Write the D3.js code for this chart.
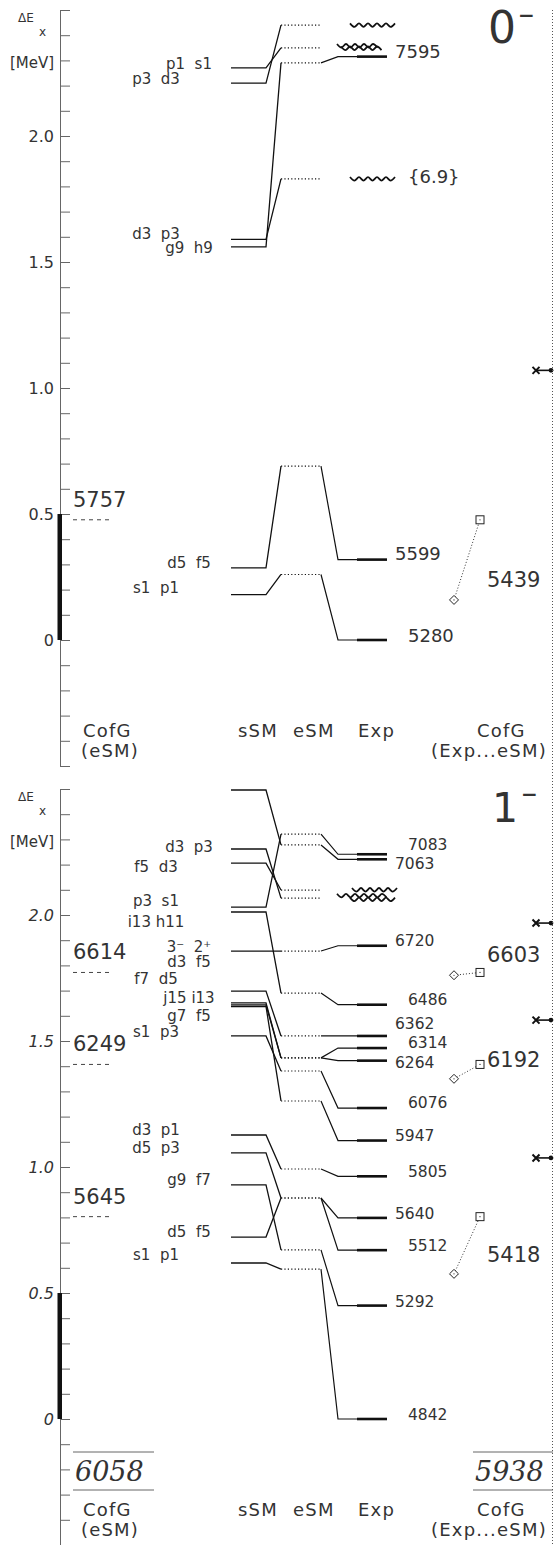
<!DOCTYPE html>
<html>
<head>
<meta charset="utf-8">
<script src="https://cdn.jsdelivr.net/npm/d3@7"></script>
<style>
body { margin: 0; background: #fff; }
svg text { font-family: "DejaVu Sans", sans-serif; fill: #333; }
</style>
</head>
<body>
<svg id="chart" width="554" height="1545"></svg>
<script>
// ---------- 0- panel (excitation energies relative to 5280 keV) ----------
const topZero = 5280;
const topSSM = [2.27, 2.21, 1.59, 1.56, 0.286, 0.18];
const topSSMLabels = ["p1  s1", "p3  d3", "d3  p3", "g9  h9", "d5  f5", "s1  p1"];
const topESM = [2.35, 2.44, 1.83, 2.29, 0.69, 0.26];
const topExp = [null, null, null, 7595, 5599, 5280];
const topWavy = [2.44, 2.358, 2.348, 1.83];
const topWavyLabels = ["", "", "", "{6.9}"];
const topCofGeSM = [5757];
const topCofGExp = [5439];
const topMarks = [1.07];

// ---------- 1- panel (relative to 4842 keV) ----------
const botZero = 4842;
const botSSM = [2.496, 2.262, 2.206, 2.031, 2.012, 1.857, 1.698, 1.651, 1.643, 1.637,
                1.520, 1.127, 1.056, 0.929, 0.722, 0.619];
const botSSMLabels = ["", "d3  p3", "f5  d3", "p3  s1", "i13 h11", "3⁻  2⁺", "d3  f5", "f7  d5",
                      "j15 i13", "g7  f5", "s1  p3", "d3  p1", "d5  p3", "g9  f7", "d5  f5", "s1  p1"];
const botESM = [2.278, 2.067, 2.099, 2.321, 1.690, 1.857, 1.520, 1.433, 1.433, 1.262,
                1.381, 0.992, 0.877, 0.671, 0.877, 0.595];
const botExp = [7063, null, null, 7083, 6486, 6720, 6362, 6314, 6264, 5947,
                6076, 5805, 5640, 5292, 5512, 4842];
const botWavy = [2.10, 2.077, 2.062];
const botWavyLabels = ["", "", ""];
const botCofGeSM = [6614, 6249, 5645];
const botCofGExp = [6603, 6192, 5418];
const botMarks = [1.968, 1.583, 1.036];
const botTotals = [6058, 5938];

const majorTicks = [0, 0.5, 1, 1.5, 2];

// x layout
const col = {
    axis: 60, cofgL: 73, cofgR: 113,
    labA: 156, labB: 189,
    sL: 231, sR: 266, eL: 281, eR: 321, xL: 338, xMid: 357, xR: 387,
    expLabA: 395, expLabB: 408,
    diamond: 454, square: 480, cofgLab: 487, mark: 536, markDot: 551, edge: 552.5
};

// label nudges (column flag, baseline offset)
const topLabelCol = [1, 0, 0, 1, 1, 0];
const topLabelDy = [1, 1, 0, 6, 0, -2];
const botLabelCol = [0, 1, 0, 0, 0, 1, 1, 0, 1, 1, 0, 0, 0, 1, 1, 0];
const botLabelDy = [0, 3, 9, -1, 15, 1, -24, -19, -2, 15, 1, 0, 0, 0, 0, -3];
const expNudge = {7595: [0, 1], 5599: [0, 0], 5280: [1, 2],
    7063: [0, 10], 7083: [1, -4], 6486: [1, 0], 6720: [0, 0], 6362: [0, -7], 6314: [1, 0],
    6264: [0, 7], 5947: [0, 0], 6076: [1, 0], 5805: [1, 1], 5640: [0, 1], 5292: [0, 1],
    5512: [1, 1], 4842: [1, 1]};

const svg = d3.select("#chart");

const panels = [
    {zero: topZero, off: 0, range: [766, 10], italic: false, title: "0",
     sSM: topSSM, sLabels: topSSMLabels, eSM: topESM, exp: topExp,
     wavy: topWavy, wavyLabels: topWavyLabels, wavyX: [[350, 397], [337, 381], [341, 384], [350, 397]],
     cofgESM: topCofGeSM, cofgExp: topCofGExp, cofgLabDy: [67], marks: topMarks,
     labCol: topLabelCol, labDy: topLabelDy, expLabSize: 18},
    {zero: botZero, off: 779, range: [1545, 789], italic: true, title: "1",
     sSM: botSSM, sLabels: botSSMLabels, eSM: botESM, exp: botExp,
     wavy: botWavy, wavyLabels: botWavyLabels, wavyX: [[352, 397], [337, 390], [350, 397]],
     cofgESM: botCofGeSM, cofgExp: botCofGExp, cofgLabDy: [-10, 3, 45], marks: botMarks,
     labCol: botLabelCol, labDy: botLabelDy, expLabSize: 15.5}
];

function wavyPath(x0, x1, yy) {
    const pts = [];
    for (let xx = x0, k = 0; xx <= x1; xx += 4.5, k++) pts.push([xx, yy + (k % 2 ? 1.8 : -1.8)]);
    return d3.line().curve(d3.curveCardinal)(pts);
}

function drawPanel(p) {
    const y = d3.scaleLinear().domain([-0.5, 2.5]).range(p.range);
    const g = svg.append("g");
    const rel = E => (E - p.zero) / 1000;

    // axis
    const ticks = d3.range(-5, 26).map(i => i / 10);
    const ax = g.append("g")
        .attr("transform", `translate(${col.axis},0)`)
        .call(d3.axisLeft(y).tickValues(ticks).tickSize(-10).tickSizeOuter(-10).tickPadding(6)
            .tickFormat(d => majorTicks.includes(d) ? (d === 0 ? "0" : d3.format(".1f")(d)) : ""));
    ax.attr("font-family", null).attr("font-size", null);
    ax.selectAll("path, line").attr("stroke", "#666");
    ax.selectAll("text").attr("font-size", 16).style("font-style", p.italic ? "italic" : "normal");

    g.append("rect")
        .attr("x", col.axis - 2.5).attr("y", y(0.5))
        .attr("width", 4.5).attr("height", y(0) - y(0.5))
        .attr("fill", "#111");

    // CofG of eSM on the left
    p.cofgESM.forEach(E => {
        g.append("line")
            .attr("x1", col.cofgL).attr("x2", col.cofgR)
            .attr("y1", y(rel(E))).attr("y2", y(rel(E)))
            .attr("stroke", "#444").attr("stroke-dasharray", "4,4");
        g.append("text")
            .attr("x", col.cofgL).attr("y", y(rel(E)) - 13)
            .attr("font-size", 21).text(E);
    });

    const states = p.sSM.map((s, i) => ({s, e: p.eSM[i], x: p.exp[i], label: p.sLabels[i], i}));

    // sSM levels
    g.selectAll(".ssm").data(states).join("path")
        .attr("fill", "none").attr("stroke", "#111").attr("stroke-width", 1.3)
        .attr("d", d => `M${col.sL},${y(d.s)}H${col.sR}L${col.eL},${y(d.e)}`);
    g.selectAll(".slab").data(states.filter(d => d.label)).join("text")
        .attr("x", d => p.labCol[d.i] ? col.labB : col.labA)
        .attr("y", d => y(d.s) + p.labDy[d.i])
        .attr("text-anchor", "middle").attr("font-size", 15)
        .text(d => d.label.replace(/ /g, "\u00a0"));

    // eSM levels
    g.selectAll(".esm").data(states).join("line")
        .attr("x1", col.eL).attr("x2", col.eR)
        .attr("y1", d => y(d.e)).attr("y2", d => y(d.e))
        .attr("stroke", "#111").attr("stroke-width", 1.2).attr("stroke-dasharray", "1.2,2.2");

    // experimental levels
    const withExp = states.filter(d => d.x !== null);
    g.selectAll(".conn").data(withExp).join("path")
        .attr("fill", "none").attr("stroke", "#111").attr("stroke-width", 1.2)
        .attr("d", d => `M${col.eR},${y(d.e)}L${col.xL},${y(rel(d.x))}H${col.xMid}`);
    g.selectAll(".exp").data(withExp).join("line")
        .attr("x1", col.xMid).attr("x2", col.xR)
        .attr("y1", d => y(rel(d.x))).attr("y2", d => y(rel(d.x)))
        .attr("stroke", "#111").attr("stroke-width", 2.6);
    g.selectAll(".xlab").data(withExp).join("text")
        .attr("x", d => (expNudge[d.x] || [0, 0])[0] ? col.expLabB : col.expLabA)
        .attr("y", d => y(rel(d.x)) + (expNudge[d.x] || [0, 0])[1])
        .attr("font-size", p.expLabSize)
        .text(d => d.x);

    // tentative (wavy) levels
    p.wavy.forEach((v, i) => {
        g.append("path")
            .attr("d", wavyPath(p.wavyX[i][0], p.wavyX[i][1], y(v)))
            .attr("fill", "none").attr("stroke", "#111").attr("stroke-width", 1.8);
        if (p.wavyLabels[i]) {
            g.append("text")
                .attr("x", col.expLabB).attr("y", y(v) + 4)
                .attr("font-size", p.expLabSize).text(p.wavyLabels[i]);
        }
    });

    // CofG comparison Exp ... eSM
    p.cofgExp.forEach((E, i) => {
        const yd = y(rel(E)), ys = y(rel(p.cofgESM[i]));
        g.append("line")
            .attr("x1", col.diamond).attr("y1", yd).attr("x2", col.square).attr("y2", ys)
            .attr("stroke", "#333").attr("stroke-width", 1).attr("stroke-dasharray", "1,2");
        g.append("path")
            .attr("d", `M${col.diamond},${yd - 4.5}l4.5,4.5l-4.5,4.5l-4.5,-4.5z`)
            .attr("fill", "#fff").attr("stroke", "#222");
        g.append("rect")
            .attr("x", col.square - 4).attr("y", ys - 4).attr("width", 8).attr("height", 8)
            .attr("fill", "#fff").attr("stroke", "#222");
        g.append("circle").attr("cx", col.diamond).attr("cy", yd).attr("r", 0.6).attr("fill", "#222");
        g.append("circle").attr("cx", col.square).attr("cy", ys).attr("r", 0.6).attr("fill", "#222");
        g.append("text")
            .attr("x", col.cofgLab).attr("y", ys + p.cofgLabDy[i])
            .attr("font-size", 21).text(E);
    });

    // markers at right edge
    p.marks.forEach(v => {
        const ym = y(v);
        g.append("path")
            .attr("d", `M${col.mark - 3.5},${ym - 3.5}l7,7M${col.mark - 3.5},${ym + 3.5}l7,-7`)
            .attr("stroke", "#111").attr("stroke-width", 2);
        g.append("line")
            .attr("x1", col.mark).attr("x2", col.markDot).attr("y1", ym).attr("y2", ym)
            .attr("stroke", "#111").attr("stroke-width", 1.6);
        g.append("circle").attr("cx", col.markDot).attr("cy", ym).attr("r", 2.4).attr("fill", "#111");
    });

    // axis caption
    const o = p.off;
    g.append("text").attr("x", 18).attr("y", 22 + o).attr("font-size", 12).text("ΔE");
    g.append("text").attr("x", 39).attr("y", 36 + o).attr("font-size", 12).text("x");
    g.append("text").attr("x", 10).attr("y", 68 + o).attr("font-size", 15).text("[MeV]");

    // title
    g.append("text").attr("x", p.title === "0" ? 488 : 492).attr("y", 43 + o)
        .attr("font-size", p.title === "0" ? 44 : 41).text(p.title);
    g.append("text").attr("x", p.title === "0" ? 518 : 521).attr("y", 22 + o)
        .attr("font-size", 20).attr("font-weight", "bold").text("−");

    // column captions
    const cap = (x, yy, t) => g.append("text").attr("x", x).attr("y", yy + o)
        .attr("font-size", 18).attr("letter-spacing", 1.2).text(t);
    cap(83, 737, "CofG");
    cap(81, 757, "(eSM)");
    cap(238, 737, "sSM");
    cap(293, 737, "eSM");
    cap(358, 737, "Exp");
    cap(477, 737, "CofG");
    cap(431, 757, "(Exp...eSM)");
}

panels.forEach(drawPanel);

// overall centroids (1- panel)
[[col.cofgL, 154, botTotals[0]], [473, 553, botTotals[1]]].forEach(([x0, x1, v]) => {
    svg.append("line").attr("x1", x0).attr("x2", x1).attr("y1", 1452).attr("y2", 1452)
        .attr("stroke", "#666");
    svg.append("line").attr("x1", x0).attr("x2", x1).attr("y1", 1490).attr("y2", 1490)
        .attr("stroke", "#666");
    svg.append("text").attr("x", x0 + 2).attr("y", 1481)
        .attr("font-size", 27).style("font-family", "'DejaVu Serif', serif")
        .style("font-style", "italic").text(v);
});

// right frame (dotted)
svg.append("line")
    .attr("x1", col.edge).attr("x2", col.edge).attr("y1", 10).attr("y2", 1545)
    .attr("stroke", "#555").attr("stroke-dasharray", "1,2");
</script>
</body>
</html>
